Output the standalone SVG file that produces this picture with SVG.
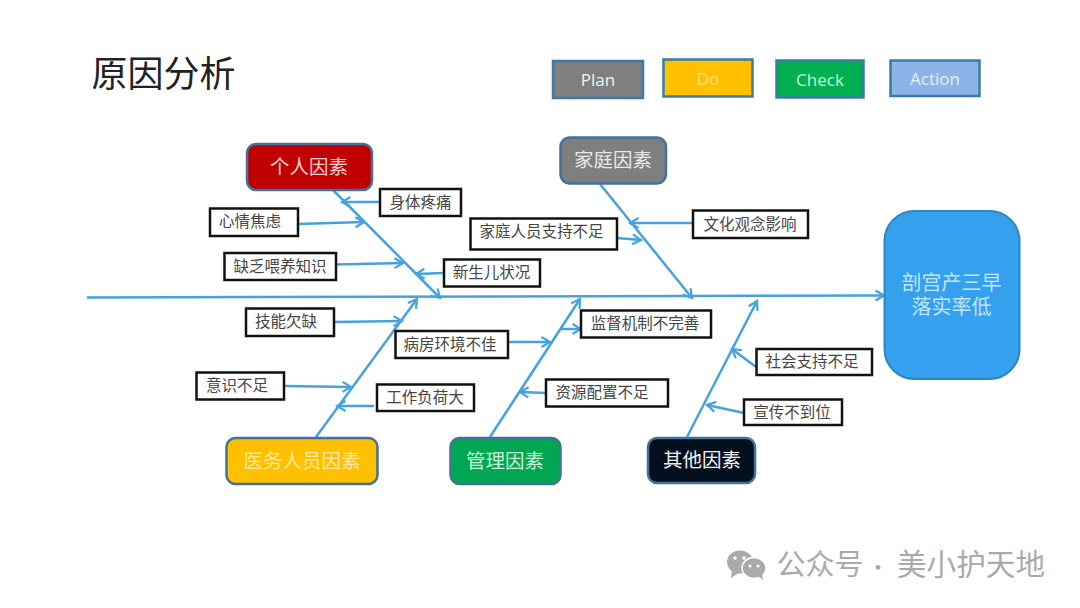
<svg xmlns="http://www.w3.org/2000/svg" width="1080" height="608" viewBox="0 0 1080 608">
<style>
text{font-family:"Noto Sans CJK SC","Liberation Sans",sans-serif;text-anchor:middle}
.c{fill:none;stroke:#45a2de;stroke-width:2.500;marker-end:url(#a)}
.l rect{fill:#fff;stroke:#111;stroke-width:2.500}
.l text{font-size:15.500px;fill:#444}
.f rect{stroke:#41719c;stroke-width:2.500}
.f text{font-size:19.500px}
.p rect{stroke:#3a7ca5;stroke-width:2.500}
.p text{font-family:"Open Sans","Liberation Sans",sans-serif;font-size:17px}
.w{fill:#aaa;font-size:29px}
</style>
<defs>
<marker id="a" markerUnits="userSpaceOnUse" markerWidth="16" markerHeight="16" refX="13" refY="8" orient="auto">
<path d="M4.500 3L13 8L4.500 13" fill="none" stroke="#45a2de" stroke-width="2.200"/>
</marker>
</defs>
<rect width="1080" height="608" fill="#fff"/>
<text id="title" x="163.500" y="87" style="font-size:36px;fill:#222">原因分析</text>
<g id="connectors">
<path class="c" d="M87 297.500L884 295.500"/>
<path class="c" d="M333 190L440 298"/>
<path class="c" d="M600 184L692 298"/>
<path class="c" d="M316 437L417 299"/>
<path class="c" d="M490 437L580 299"/>
<path class="c" d="M687 437L757 301"/>
<path class="c" d="M380 202L342 202"/>
<path class="c" d="M298 224L364 222"/>
<path class="c" d="M336 264.500L403 263"/>
<path class="c" d="M444 273L416 274"/>
<path class="c" d="M693 223L630 223"/>
<path class="c" d="M617 238L641 240"/>
<path class="c" d="M334 322L402 321"/>
<path class="c" d="M508 342L550 342"/>
<path class="c" d="M560 329L581 329"/>
<path class="c" d="M284 386L351 387"/>
<path class="c" d="M374 406L337 406"/>
<path class="c" d="M546 393L520 392"/>
<path class="c" d="M756 367L732 349"/>
<path class="c" d="M744 413L707 405"/>
</g>
<g id="legend-plan" class="p"><rect x="553" y="61" width="90" height="37" fill="#7f7f7f"/><text x="598" y="86" fill="#f2f2f2">Plan</text></g>
<g id="legend-do" class="p"><rect x="663.500" y="59.500" width="89" height="37" fill="#ffc000"/><text x="708" y="85" fill="#ffe27a">Do</text></g>
<g id="legend-check" class="p"><rect x="776.500" y="60.500" width="87" height="37" fill="#00b050"/><text x="820" y="86" fill="#c8f5da">Check</text></g>
<g id="legend-action" class="p"><rect x="890.500" y="60.500" width="89" height="35.500" fill="#8db3e8"/><text x="935" y="85" fill="#e6effa">Action</text></g>
<g id="f-personal" class="f"><rect x="247" y="144" width="125" height="46" rx="9" fill="#c00000"/><text x="309" y="174" fill="#ffd0d0">个人因素</text></g>
<g id="f-family" class="f"><rect x="560.500" y="137.500" width="105.500" height="46" rx="9" fill="#7f7f7f"/><text x="613" y="167" fill="#e8e8e8">家庭因素</text></g>
<g id="f-staff" class="f"><rect x="226.500" y="438" width="151" height="46" rx="9" fill="#ffc000"/><text x="302" y="468" fill="#ffe9a0">医务人员因素</text></g>
<g id="f-manage" class="f"><rect x="450.500" y="438" width="110" height="46" rx="9" fill="#00a651"/><text x="505" y="468" fill="#c8f5da">管理因素</text></g>
<g id="f-other" class="f"><rect x="648" y="438" width="107" height="45" rx="9" fill="#04101e"/><text x="702" y="467" fill="#f2f2f2">其他因素</text></g>
<g id="effect"><rect x="884.500" y="211" width="135" height="168" rx="30" fill="#34a0ee" stroke="#2e86c1" stroke-width="2"/><text style="font-size:20px;fill:#c5e6fa"><tspan x="951.500" y="290">剖宫产三早</tspan><tspan x="951.500" y="314">落实率低</tspan></text></g>
<g id="l1" class="l"><rect x="380" y="189" width="81" height="27"/><text x="420.500" y="208">身体疼痛</text></g>
<g id="l2" class="l"><rect x="210" y="208.500" width="88" height="27.500"/><text x="250" y="227">心情焦虑</text></g>
<g id="l3" class="l"><rect x="224.500" y="253" width="111.500" height="27"/><text x="280" y="272">缺乏喂养知识</text></g>
<g id="l4" class="l"><rect x="444" y="259.500" width="96" height="27"/><text x="491.500" y="278">新生儿状况</text></g>
<g id="l5" class="l"><rect x="693" y="210.500" width="115" height="27.500"/><text x="750" y="230">文化观念影响</text></g>
<g id="l6" class="l"><rect x="470.500" y="218.500" width="146.500" height="31"/><text x="541.500" y="237">家庭人员支持不足</text></g>
<g id="l7" class="l"><rect x="246" y="308.500" width="88" height="27.500"/><text x="286" y="327">技能欠缺</text></g>
<g id="l8" class="l"><rect x="395.500" y="331" width="112.500" height="27"/><text x="450" y="350">病房环境不佳</text></g>
<g id="l9" class="l"><rect x="581" y="310.500" width="130" height="27"/><text x="645" y="329">监督机制不完善</text></g>
<g id="l10" class="l"><rect x="196.500" y="372.500" width="87.500" height="27"/><text x="237" y="391">意识不足</text></g>
<g id="l11" class="l"><rect x="377" y="384.500" width="97" height="26.500"/><text x="425" y="403">工作负荷大</text></g>
<g id="l12" class="l"><rect x="546" y="379.500" width="122" height="27"/><text x="602" y="398">资源配置不足</text></g>
<g id="l13" class="l"><rect x="756.500" y="349" width="115.500" height="26"/><text x="812" y="367">社会支持不足</text></g>
<g id="l14" class="l"><rect x="744" y="399.500" width="98" height="25.500"/><text x="792" y="418">宣传不到位</text></g>
<g id="watermark">
<ellipse cx="740" cy="562" rx="13" ry="11.500" fill="#aaa"/>
<path d="M732 570L731 578L740 572Z" fill="#aaa"/>
<ellipse cx="754" cy="568" rx="12" ry="10.500" fill="#aaa" stroke="#fff" stroke-width="1.500"/>
<path d="M758 576L763 580L762 573Z" fill="#aaa"/>
<circle cx="735" cy="558" r="1.800" fill="#fff"/><circle cx="744" cy="558" r="1.800" fill="#fff"/>
<circle cx="750" cy="566" r="1.500" fill="#fff"/><circle cx="758" cy="566" r="1.500" fill="#fff"/>
<text class="w" x="820" y="575">公众号</text>
<text class="w" x="878" y="575" style="font-size:22px">·</text>
<text class="w" x="971" y="575" style="font-size:29.600px">美小护天地</text>
</g>
</svg>
